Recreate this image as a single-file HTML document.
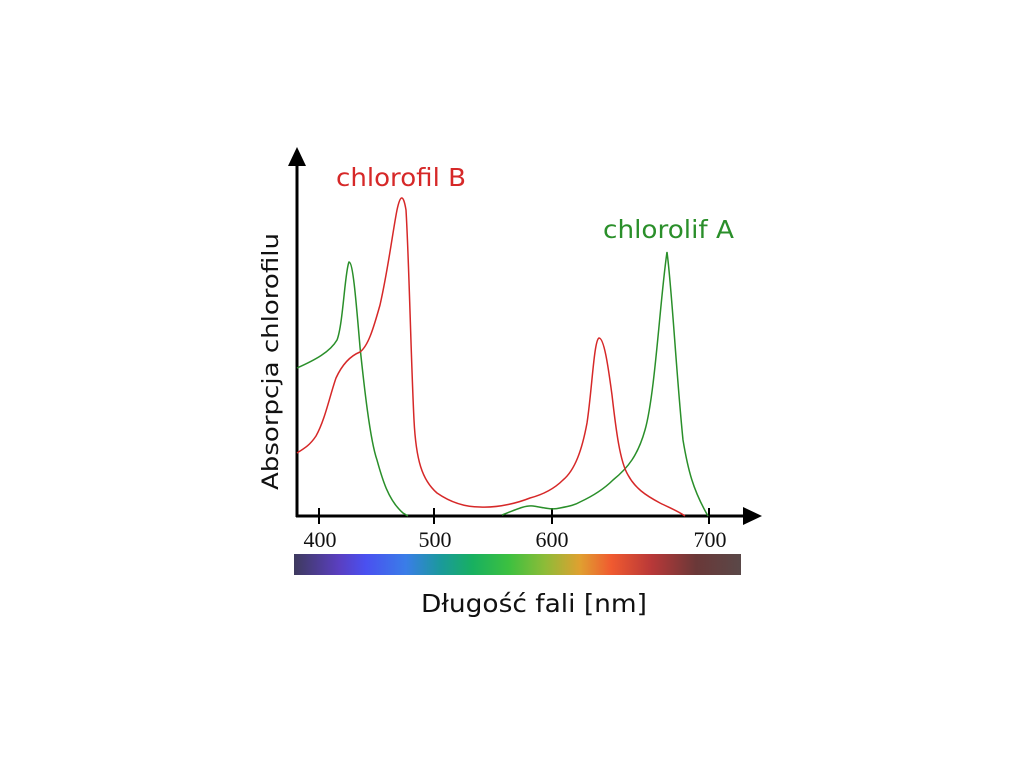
<!DOCTYPE html>
<html><head><meta charset="utf-8"><style>body{margin:0;background:#fff}svg{display:block}</style></head>
<body>
<svg width="1024" height="768" viewBox="0 0 1024 768" xmlns="http://www.w3.org/2000/svg">
<defs>
<linearGradient id="sp" x1="0" x2="1" y1="0" y2="0">
<stop offset="0" stop-color="#3e3a5e"/>
<stop offset="0.1" stop-color="#5a3fc0"/>
<stop offset="0.16" stop-color="#4a50f0"/>
<stop offset="0.25" stop-color="#3a7de8"/>
<stop offset="0.33" stop-color="#1a9a9a"/>
<stop offset="0.4" stop-color="#18b060"/>
<stop offset="0.48" stop-color="#3cc040"/>
<stop offset="0.56" stop-color="#8cbc38"/>
<stop offset="0.64" stop-color="#e0a030"/>
<stop offset="0.71" stop-color="#f05a30"/>
<stop offset="0.8" stop-color="#b83838"/>
<stop offset="0.9" stop-color="#6a3838"/>
<stop offset="1" stop-color="#5a4848"/>
</linearGradient>
</defs>
<rect x="294" y="554" width="447" height="21" fill="url(#sp)"/>
<g stroke="#000" stroke-width="3" fill="none">
<line x1="297" y1="160" x2="297" y2="517"/>
<line x1="296" y1="516" x2="748" y2="516"/>
<line x1="319" y1="508" x2="319" y2="524" stroke-width="2"/>
<line x1="434" y1="508" x2="434" y2="524" stroke-width="2"/>
<line x1="552" y1="508" x2="552" y2="524" stroke-width="2"/>
<line x1="709" y1="508" x2="709" y2="524" stroke-width="2"/>
</g>
<polygon points="297,147 288,166 306,166" fill="#000"/>
<polygon points="762,516 743,507 743,525" fill="#000"/>
<g font-family="Liberation Serif, serif" font-size="22" fill="#111" text-anchor="middle">
<text x="320" y="547">400</text><text x="435" y="547">500</text><text x="552" y="547">600</text><text x="710" y="547">700</text>
</g>
<path fill="none" stroke="#2a8f2a" stroke-width="1.5" d="M297,368 C315,360 330,352 337,340 C343,325 345,270 349,262 C353,262 356,300 360,347 C364,385 370,440 377,460 C382,478 388,500 403,513 L408,516"/>
<path fill="none" stroke="#2a8f2a" stroke-width="1.5" d="M502,515 C515,510 525,505 533,506 C545,508 552,510 560,508 C570,506 575,505 580,502 C595,495 605,488 613,480 C628,468 638,455 645,430 C655,395 660,300 667,252 C672,290 676,370 683,440 C688,470 693,490 708,516"/>
<path fill="none" stroke="#d62828" stroke-width="1.5" d="M297,453 C305,448 310,445 316,436 C325,420 330,395 336,378 C342,365 350,356 360,352 C368,346 373,330 380,305 C388,270 393,230 397,210 C400,196 403,192 406,210 C409,260 411,360 414,420 C416,460 422,480 437,493 C450,502 465,507 480,507 C500,508 520,502 530,498 C545,494 555,488 563,480 C575,470 582,450 587,423 C592,390 594,340 599,338 C604,338 608,365 612,395 C616,430 620,462 628,475 C635,488 645,495 660,503 C670,508 678,511 685,516"/>
<text x="336" y="186" font-family="DejaVu Sans, sans-serif" font-size="25" fill="#d62828" textLength="130" lengthAdjust="spacingAndGlyphs">chlorofil B</text>
<text x="603" y="238" font-family="DejaVu Sans, sans-serif" font-size="25" fill="#2a8f2a" textLength="131" lengthAdjust="spacingAndGlyphs">chlorolif A</text>
<text transform="translate(278,490) rotate(-90)" font-family="DejaVu Sans, sans-serif" font-size="22" fill="#111" textLength="257" lengthAdjust="spacingAndGlyphs">Absorpcja chlorofilu</text>
<text x="421" y="612" font-family="DejaVu Sans, sans-serif" font-size="25" fill="#111" textLength="226" lengthAdjust="spacingAndGlyphs">Długość fali [nm]</text>
</svg>
</body></html>
